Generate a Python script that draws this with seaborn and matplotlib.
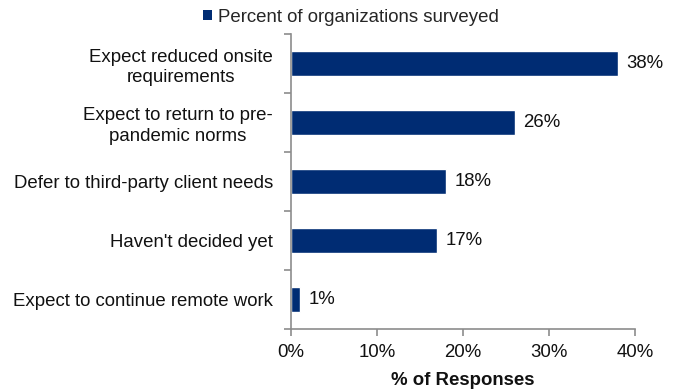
import matplotlib
matplotlib.use("Agg")
import matplotlib.pyplot as plt
from matplotlib.patches import Patch
from matplotlib.ticker import FixedLocator
import seaborn as sns
import pandas as pd

categories = [
    "Expect reduced onsite\nrequirements",
    "Expect to return to pre-\npandemic norms",
    "Defer to third-party client needs",
    "Haven't decided yet",
    "Expect to continue remote work",
]
values = [38, 26, 18, 17, 1]
x_ticks = [0, 10, 20, 30, 40]
x_tick_labels = ["0%", "10%", "20%", "30%", "40%"]
series_name = "Percent of organizations surveyed"
x_title = "% of Responses"

bar_color = "#002C73"
spine_color = "#8C8C8C"
text_color = "#111111"
fs = 13.4

sns.set_theme(style="white")
plt.rcParams["font.family"] = ["Liberation Sans", "DejaVu Sans"]

df = pd.DataFrame({"category": categories, "value": values})

fig = plt.figure(figsize=(6.81, 3.90), dpi=100)
ax = fig.add_axes([291 / 681, 1 - 329 / 390, (635 - 291) / 681, (329 - 34) / 390])

sns.barplot(data=df, y="category", x="value", color=bar_color, width=0.44,
            saturation=1, ax=ax, orient="h")

ax.set_xlim(0, 40)
ax.set_ylim(len(categories) - 0.5, -0.5)
ax.set_xticks(x_ticks)
ax.set_xticklabels(x_tick_labels, fontsize=fs, color=text_color)
ax.set_yticks(range(len(categories)))
ax.set_yticklabels(categories, fontsize=fs, color=text_color, multialignment="center",
                   linespacing=1.3)
ax.set_ylabel("")
ax.set_xlabel(x_title, fontsize=fs, fontweight="bold", color=text_color, labelpad=8)

for s in ["top", "right"]:
    ax.spines[s].set_visible(False)
for s in ["left", "bottom"]:
    ax.spines[s].set_color(spine_color)
    ax.spines[s].set_linewidth(1.2)

# category boundaries marked on the value axis
ax.yaxis.set_minor_locator(FixedLocator([i - 0.5 for i in range(len(categories) + 1)]))
ax.tick_params(axis="y", which="major", length=0, pad=13)
ax.tick_params(axis="y", which="minor", length=5, width=1.2, color=spine_color, direction="out", left=True)
ax.tick_params(axis="x", which="major", length=5, width=1.2, color=spine_color, direction="out", bottom=True, pad=6)

for i, v in enumerate(values):
    ax.text(v + 1.0, i, f"{v}%", va="center", ha="left", fontsize=fs, color=text_color)

handle = Patch(facecolor=bar_color, edgecolor="none")
fig.legend([handle], [series_name], loc="center", bbox_to_anchor=(351 / 681, 1 - 17 / 390),
           frameon=False, fontsize=fs, handlelength=0.5, handleheight=0.5, handletextpad=0.3)

fig.savefig("out.png", dpi=100)
